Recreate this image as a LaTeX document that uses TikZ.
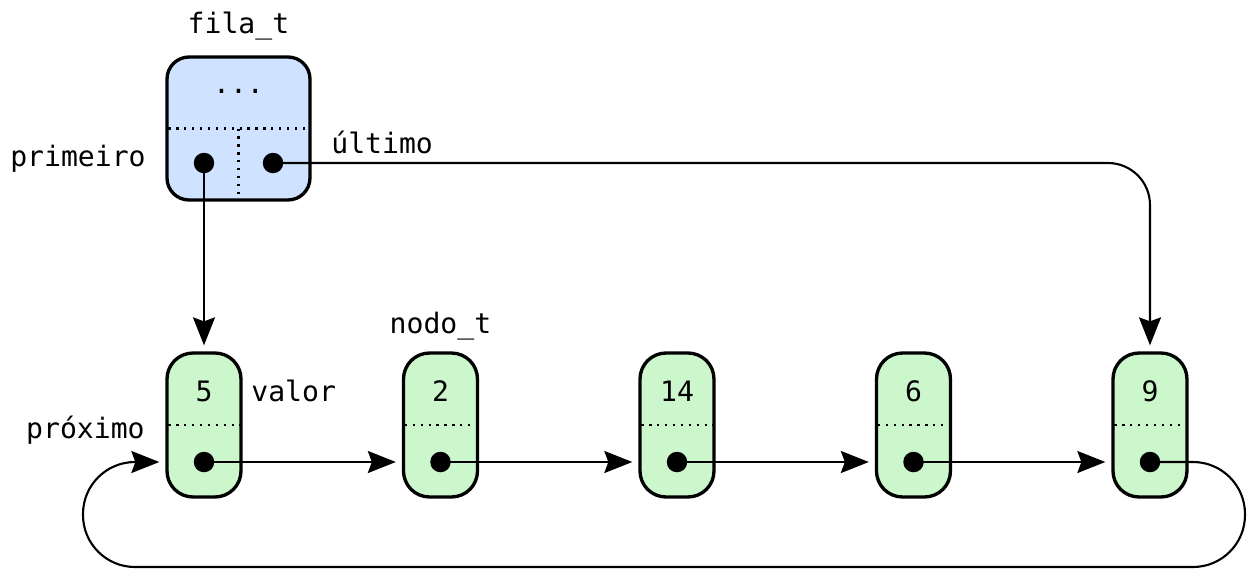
\documentclass[tikz,border=0pt]{standalone}
\usepackage{fontspec}
\setmonofont{DejaVu Sans Mono}
\usetikzlibrary{arrows.meta}
\definecolor{bluefill}{HTML}{CFE2FF}
\definecolor{greenfill}{HTML}{CCF7CC}
\begin{document}
\begin{tikzpicture}[x=0.02cm,y=-0.02cm,
  font=\ttfamily\fontsize{16}{19}\selectfont,
  box/.style={draw, line width=1.9pt, inner sep=0},
  qbox/.style={box, rounded corners=0.44cm, fill=bluefill, minimum width=2.86cm, minimum height=2.86cm},
  nbox/.style={box, rounded corners=0.52cm, fill=greenfill, minimum width=1.48cm, minimum height=2.88cm},
  ptr/.style={circle, fill=black, inner sep=0, minimum size=0.41cm},
  link/.style={line width=1.2pt, -{Stealth[length=0.56cm, width=0.44cm, inset=0.08cm]}, shorten >=0.12cm},
  sep/.style={line width=1.3pt, dash pattern=on 1.3pt off 3.2pt},
  lbl/.style={inner sep=0}]
\useasboundingbox (0,0) rectangle (1249,569);

% queue header
\node[qbox] (fila) at (238.5,128.5) {};
\draw[sep, shorten <=0.06cm, shorten >=0.06cm] (fila.west) -- (fila.east);
\draw[sep, shorten >=0.12cm] (fila.center) -- (fila.south);
\node[lbl, anchor=base] (dots) at (238.5,93) {...};
\node[lbl, anchor=base] (filat) at (238.5,33) {fila\_t};
\node[lbl, anchor=base east] (prim) at (146,166) {primeiro};
\node[lbl, anchor=base west] (ult) at (331,153) {último};

% list nodes
\foreach \i/\x/\v in {1/204/5, 2/440.5/2, 3/677/14, 4/913.5/6, 5/1150/9}{
  \node[nbox] (n\i) at (\x,425) {};
  \draw[sep, shorten <=0.06cm, shorten >=0.06cm] (n\i.west) -- (n\i.east);
  \node[lbl, anchor=base] (v\i) at (\x,401) {\v};
  \node[ptr] (p\i) at (\x,462) {};
}
\node[lbl, anchor=base west] (valor) at (251,401) {valor};
\node[lbl, anchor=base east] (prox) at (145,438) {próximo};
\node[lbl, anchor=base] (nodot) at (440.5,333) {nodo\_t};

% header pointers
\node[ptr] (pa) at (204,163) {};
\node[ptr] (pb) at (273,163) {};
\draw[link] (pa.center) -- (n1.north);
\draw[link, rounded corners=0.84cm] (pb.center) -- (pb.center -| n5.north) -- (n5.north);

% next pointers
\draw[link] (p1.center) -- (p1.center -| n2.west);
\draw[link] (p2.center) -- (p2.center -| n3.west);
\draw[link] (p3.center) -- (p3.center -| n4.west);
\draw[link] (p4.center) -- (p4.center -| n5.west);

% circular link
\coordinate (r1) at (1245,462);
\coordinate (r2) at (1245,567);
\coordinate (l2) at (83,567);
\coordinate (l1) at (83,462);
\draw[link, rounded corners=1.04cm] (p5.center) -- (r1) -- (r2) -- (l2) -- (l1) -- (l1 -| n1.west);
\end{tikzpicture}
\end{document}
